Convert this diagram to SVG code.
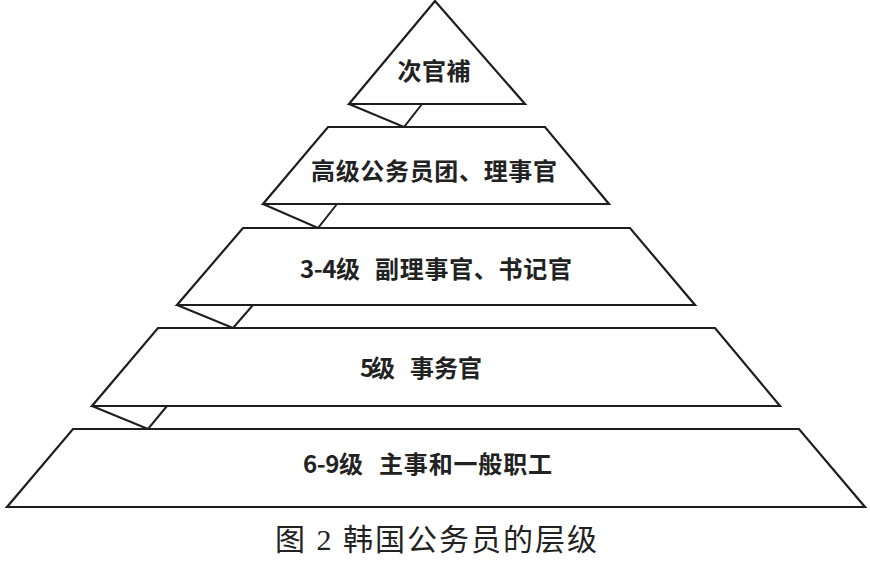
<svg xmlns="http://www.w3.org/2000/svg" width="870" height="564" viewBox="0 0 870 564">
<style>
.tier{fill:#fff;stroke:#1e1e1e;stroke-width:2.2;stroke-linejoin:miter}
.fold{fill:#fff;stroke:#1e1e1e;stroke-width:2;stroke-linejoin:miter}
.lbl{font-family:"Noto Sans CJK SC","Noto Sans",sans-serif;font-size:24px;font-weight:700;fill:#222;text-anchor:middle}
.lbs{font-family:"Noto Sans CJK SC","Noto Sans",sans-serif;font-size:24px;font-weight:700;fill:#222;text-anchor:start}
.cap{font-family:"Liberation Serif","Noto Sans CJK SC",serif;font-size:30px;fill:#222;text-anchor:middle}
</style>
<rect width="870" height="564" fill="#fff"/>
<g id="connectors">
<polyline class="fold" points="349,104 404,127 422,104"/>
<polyline class="fold" points="263,204 318,228 337,204"/>
<polyline class="fold" points="177,305 233,328 253,305"/>
<polyline class="fold" points="92,406 148,429 167,406"/>
</g>
<g id="tier1">
<polygon class="tier" points="435,1 525,104 349,104"/>
<text class="lbl" x="434" y="80" textLength="73" lengthAdjust="spacing">次官補</text>
</g>
<g id="tier2">
<polygon class="tier" points="328,127 545,127 609,204 263,204"/>
<text class="lbl" x="434" y="180" textLength="246" lengthAdjust="spacing">高级公务员团、理事官</text>
</g>
<g id="tier3">
<polygon class="tier" points="243,228 630,228 695,305 177,305"/>
<text class="lbs" y="278"><tspan x="300" textLength="60" lengthAdjust="spacing">3-4级</tspan><tspan x="375" textLength="197" lengthAdjust="spacing">副理事官、书记官</tspan></text>
</g>
<g id="tier4">
<polygon class="tier" points="158,328 715,328 780,406 92,406"/>
<text class="lbs" y="377"><tspan x="360" textLength="35" lengthAdjust="spacing">5级</tspan><tspan x="410" textLength="72" lengthAdjust="spacing">事务官</tspan></text>
</g>
<g id="tier5">
<polygon class="tier" points="73,429 799,429 865,507 7,507"/>
<text class="lbs" y="473"><tspan x="303" textLength="60" lengthAdjust="spacing">6-9级</tspan><tspan x="379" textLength="173" lengthAdjust="spacing">主事和一般职工</tspan></text>
</g>
<text class="cap" x="436" y="550" textLength="322" lengthAdjust="spacing" xml:space="preserve">图 2 韩国公务员的层级</text>
</svg>
